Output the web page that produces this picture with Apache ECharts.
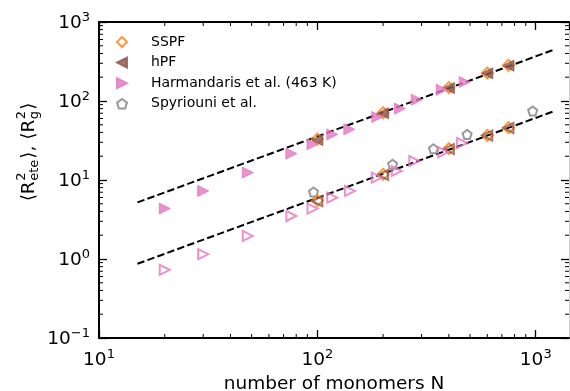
<!DOCTYPE html>
<html>
<head>
<meta charset="utf-8">
<script src="https://cdn.jsdelivr.net/npm/echarts@6/dist/echarts.min.js"></script>
<style>
  html, body { margin: 0; padding: 0; background: #fff; }
  #chart { width: 570px; height: 391px; }
</style>
</head>
<body>
<div id="chart"></div>
<script>
// values
const sspfN = [100, 200, 400, 600, 750];
const sspfEte = [33, 71, 148, 226, 283];
const sspfRg = [5.5, 11.8, 24.9, 36.8, 46];
const hpfN = [100, 200, 400, 600, 750];
const hpfEte = [32, 70, 146, 224, 280];
const hpfRg = [5.4, 11.6, 24.6, 36.5, 45.5];
const harmEteN = [20, 30, 48, 76, 95, 117, 140, 188, 239, 285, 371, 473];
const harmEte = [4.35, 7.26, 12.4, 21.6, 28.3, 37.8, 43.8, 62.7, 80.2, 104, 139, 174];
const harmRgN = [20, 30, 48, 76, 95, 117, 141, 187, 231, 278, 377, 460];
const harmRg = [0.73, 1.15, 1.96, 3.5, 4.35, 5.98, 7.26, 10.7, 13.0, 17.4, 22.6, 29.4];
const spyrN = [96, 221, 340, 485, 968];
const spyrRg = [7.05, 15.8, 24.9, 37.8, 74.6];
const fitN = [15, 1200];
const fitEte = [5.2, 442];
const fitRg = [0.87, 73.5];
const xMinor = [20, 30, 40, 50, 60, 70, 80, 90, 200, 300, 400, 500, 600, 700, 800, 900];
const yMinor = [0.2, 0.3, 0.4, 0.5, 0.6, 0.7, 0.8, 0.9, 2, 3, 4, 5, 6, 7, 8, 9,
  20, 30, 40, 50, 60, 70, 80, 90, 200, 300, 400, 500, 600, 700, 800, 900];
const legendNames = ['SSPF', 'hPF', 'Harmandaris et al. (463 K)', 'Spyriouni et al.'];

const fam = '"DejaVu Sans", sans-serif';
const ORANGE = '#ff7f0e', BROWN = '#8c564b', PINK = '#e377c2', GRAY = '#7f7f7f';
const NONE = 'rgba(255,255,255,0)';
const pentagon = 'path://M0,-1L0.951,-0.309L0.588,0.809L-0.588,0.809L-0.951,-0.309Z';
const triLeft = 'path://M1,0L0,0.5L1,1Z';
const triRight = 'path://M0,0L1,0.5L0,1Z';

const zip = (a, b) => a.map((v, i) => [v, b[i]]);

function powLabel(v) {
  const e = Math.log10(v);
  const r = Math.round(e);
  if (Math.abs(e - r) > 1e-6) return '';
  return '{b|10}{s|' + (r < 0 ? '\u2212' + (-r) : r) + '}';
}
const rich = {
  b: { fontSize: 18.5, fontFamily: fam, color: '#000', verticalAlign: 'bottom', lineHeight: 22 },
  s: { fontSize: 13, fontFamily: fam, color: '#000', verticalAlign: 'top', lineHeight: 13 }
};

const axisBase = {
  type: 'log', logBase: 10,
  axisLine: { show: true, onZero: false, lineStyle: { color: '#000', width: 2 } },
  axisTick: { show: true, inside: true, length: 8, lineStyle: { color: '#000', width: 1.3 } },
  splitLine: { show: false }
};

function scatter(name, n, v, symbol, size, fill, edge, bw) {
  return {
    type: 'scatter', name, data: zip(n, v), symbol, symbolSize: size,
    itemStyle: { color: fill, borderColor: edge, borderWidth: bw }, z: 3
  };
}

function fitLine(name, v) {
  return {
    type: 'line', name, data: zip(fitN, v), showSymbol: false, symbol: 'none', z: 2,
    lineStyle: { color: '#000', width: 2, type: [7.4, 3.2] }
  };
}

function minorX() {
  return {
    type: 'custom', name: 'minorX', clip: false, silent: true, z: 5,
    data: xMinor.map(v => [v, 0.1]),
    renderItem: (params, api) => {
      const cs = params.coordSys;
      const x = api.coord([api.value(0), api.value(1)])[0];
      const st = { stroke: '#000', lineWidth: 1 };
      return { type: 'group', children: [
        { type: 'line', shape: { x1: x, y1: cs.y + cs.height, x2: x, y2: cs.y + cs.height - 4 }, style: st },
        { type: 'line', shape: { x1: x, y1: cs.y, x2: x, y2: cs.y + 4 }, style: st }
      ] };
    }
  };
}

function minorY() {
  return {
    type: 'custom', name: 'minorY', clip: false, silent: true, z: 5,
    data: yMinor.map(v => [10, v]),
    renderItem: (params, api) => {
      const cs = params.coordSys;
      const y = api.coord([api.value(0), api.value(1)])[1];
      const st = { stroke: '#000', lineWidth: 1 };
      return { type: 'group', children: [
        { type: 'line', shape: { x1: cs.x, y1: y, x2: cs.x + 4, y2: y }, style: st },
        { type: 'line', shape: { x1: cs.x + cs.width, y1: y, x2: cs.x + cs.width - 4, y2: y }, style: st }
      ] };
    }
  };
}

// y label with stacked super/subscripts
function yLabel() {
  const base = 18.5, small = 13;
  const ctx = document.createElement('canvas').getContext('2d');
  const w = (t, s) => { ctx.font = s + 'px ' + fam; return ctx.measureText(t).width; };
  const parts = [];
  let x = 0;
  const addBase = t => { parts.push({ t, x, y: 0, s: base }); x += w(t, base); };
  const addScripts = (sup, sub) => {
    parts.push({ t: sup, x: x + 0.5, y: -7, s: small });
    parts.push({ t: sub, x: x + 0.5, y: 6, s: small });
    x += Math.max(w(sup, small), w(sub, small)) + 1.5;
  };
  addBase('\u27E8R'); addScripts('2', 'ete'); addBase('\u27E9, \u27E8R'); addScripts('2', 'g'); addBase('\u27E9');
  const total = x;
  return {
    type: 'group', x: 29, y: 152, rotation: Math.PI / 2,
    children: parts.map(p => ({
      type: 'text', x: p.x - total / 2, y: p.y,
      style: { text: p.t, font: p.s + 'px ' + fam, fill: '#000', align: 'left', verticalAlign: 'middle' }
    }))
  };
}

const chart = echarts.init(document.getElementById('chart'));
chart.setOption({
  animation: false,
  backgroundColor: '#fff',
  grid: { left: 99, right: 1, top: 22, bottom: 53, outerBoundsMode: 'none' },
  legend: {
    data: legendNames, orient: 'vertical', left: 116, top: 35, padding: 0,
    itemWidth: 10, itemHeight: 10, itemGap: 6.6, selectedMode: false,
    formatter: name => '{g| }{t|' + name + '}',
    textStyle: {
      fontSize: 14, fontFamily: fam, color: '#000',
      rich: {
        g: { width: 19, fontSize: 14 },
        t: { fontSize: 14, fontFamily: fam, color: '#000' }
      }
    }
  },
  xAxis: [
    Object.assign({}, axisBase, {
      min: 10, max: 1420, position: 'bottom',
      axisLabel: { formatter: powLabel, rich, margin: 10, showMaxLabel: false },
      name: 'number of monomers N', nameLocation: 'middle', nameGap: 32,
      nameTextStyle: { fontSize: 18.5, fontFamily: fam, color: '#000' }
    }),
    Object.assign({}, axisBase, { min: 10, max: 1420, position: 'top', axisLabel: { show: false } })
  ],
  yAxis: [
    Object.assign({}, axisBase, {
      min: 0.1, max: 1000, position: 'left',
      axisLabel: { formatter: powLabel, rich, margin: 9 }
    }),
    Object.assign({}, axisBase, {
      min: 0.1, max: 1000, position: 'right',
      axisLine: { show: true, onZero: false, lineStyle: { color: '#ccc', width: 1 } },
      axisLabel: { show: false }
    })
  ],
  graphic: [yLabel()],
  series: [
    fitLine('fitEte', fitEte),
    fitLine('fitRg', fitRg),
    scatter('SSPF', sspfN, sspfEte, 'diamond', 11, NONE, ORANGE, 2),
    scatter('hPF', hpfN, hpfEte, triLeft, 11, BROWN, BROWN, 1),
    scatter('Harmandaris et al. (463 K)', harmEteN, harmEte, triRight, 11, PINK, PINK, 1),
    scatter('Spyriouni et al.', spyrN, spyrRg, pentagon, 9, NONE, GRAY, 2),
    scatter('SSPF', sspfN, sspfRg, 'diamond', 11, NONE, ORANGE, 2),
    scatter('hPF', hpfN, hpfRg, triLeft, 10, NONE, BROWN, 2),
    scatter('Harmandaris et al. (463 K)', harmRgN, harmRg, triRight, 10, NONE, PINK, 2),
    minorX(),
    minorY()
  ]
});
</script>
</body>
</html>
